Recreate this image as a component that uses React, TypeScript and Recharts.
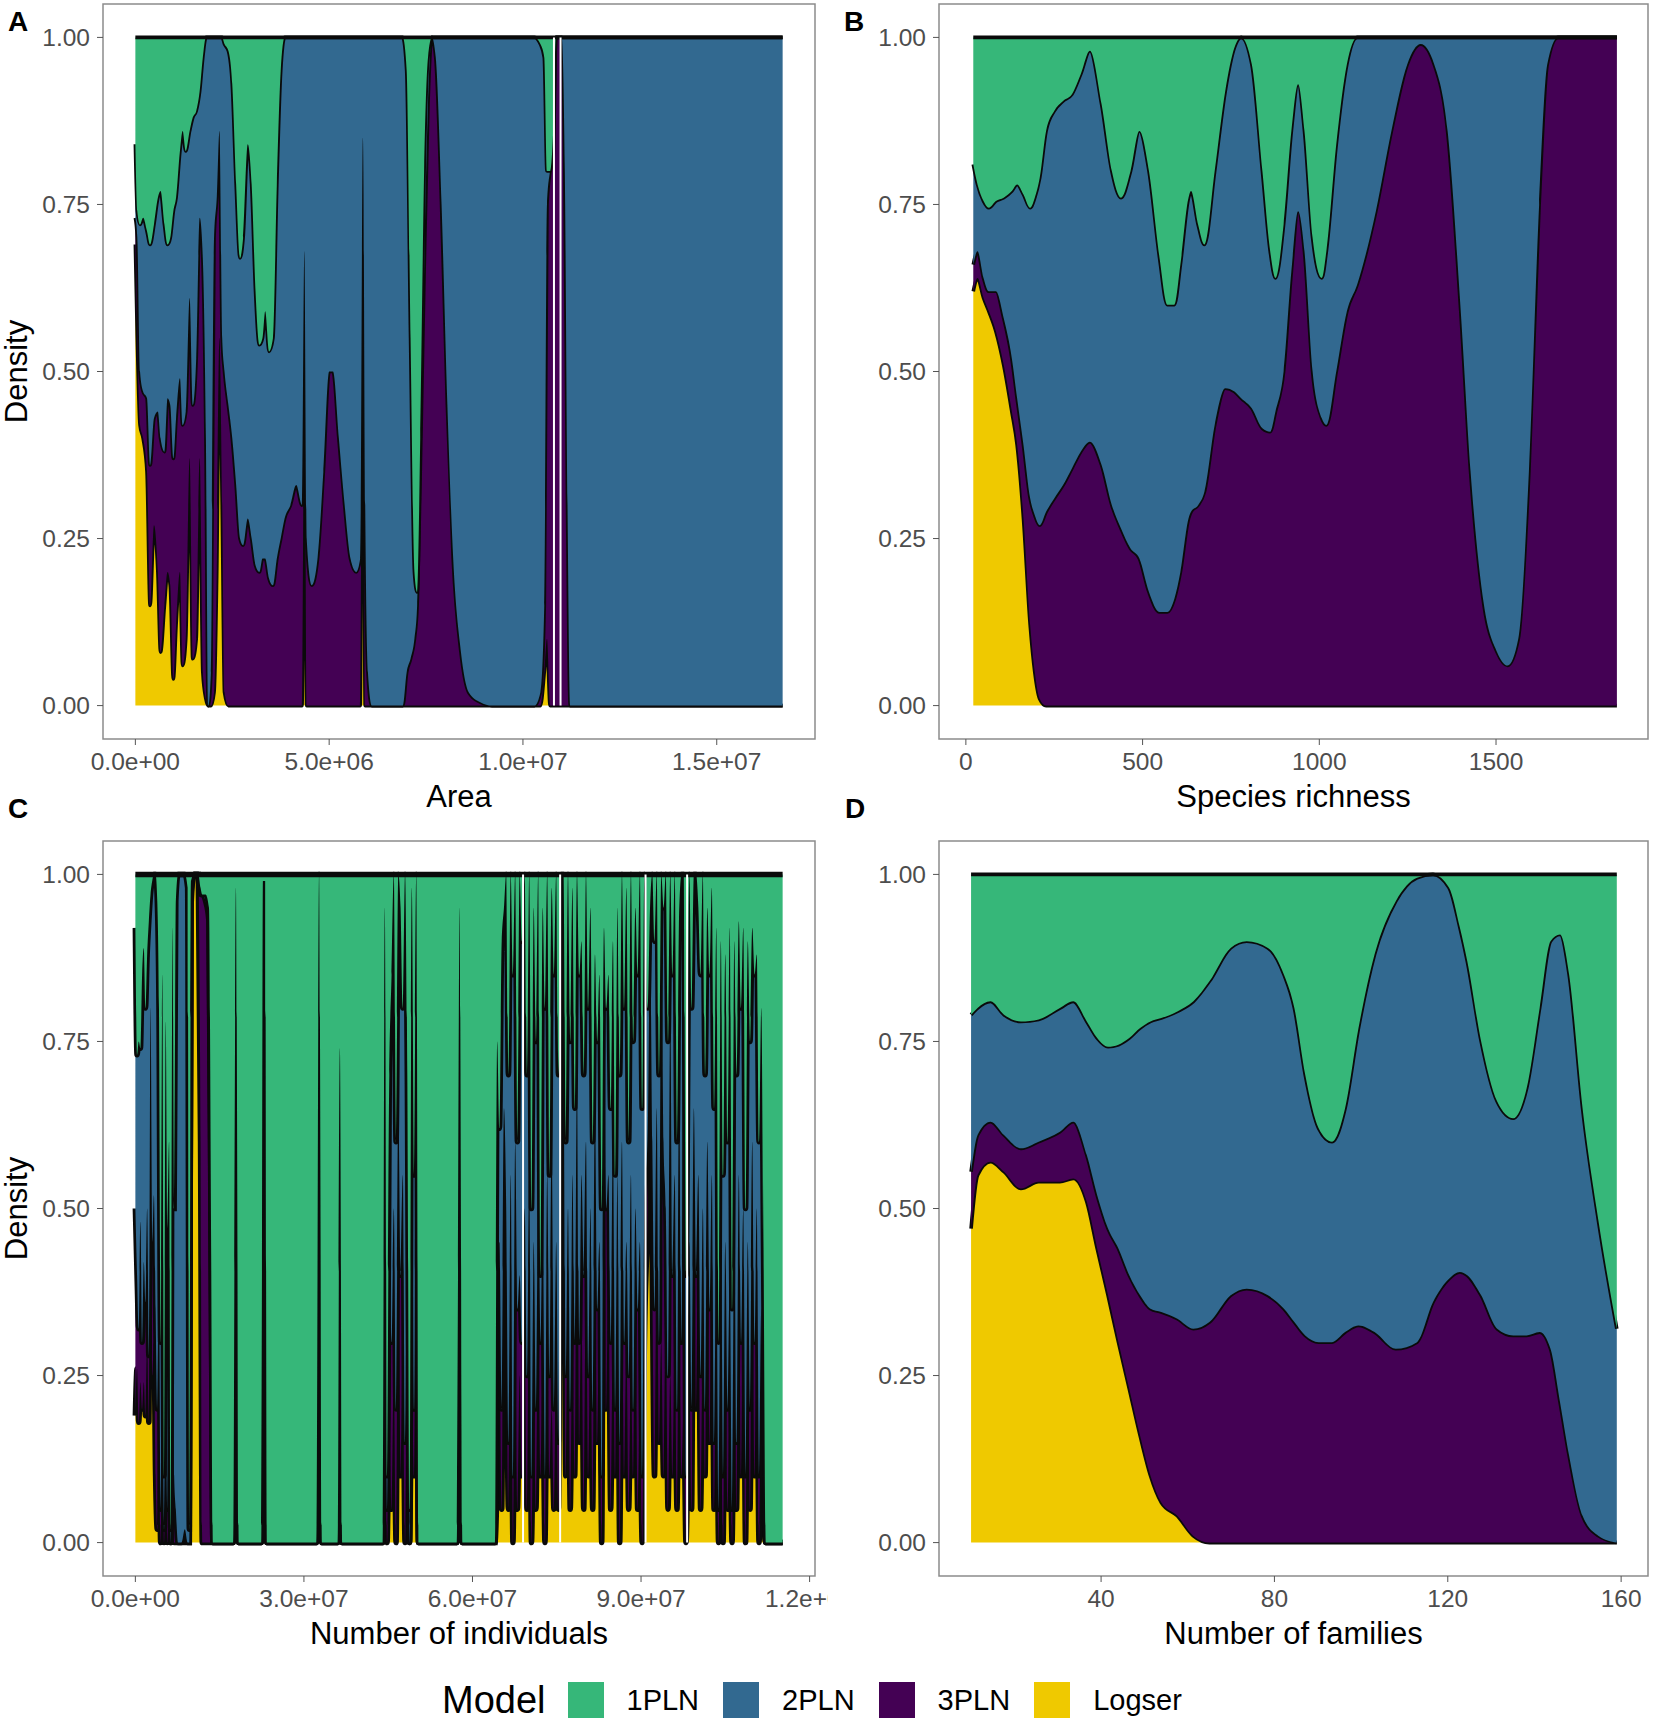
import { AreaChart, Area, XAxis, YAxis, ReferenceArea, ReferenceLine } from "recharts";

const FONT = '"Liberation Sans", Arial, Helvetica, sans-serif';

const MODELS = ["1PLN", "2PLN", "3PLN", "Logser"];
const STACK_ORDER = ["Logser", "3PLN", "2PLN", "1PLN"];
const COLORS: Record<string, string> = {
  "1PLN": "#36b779",
  "2PLN": "#326990",
  "3PLN": "#440154",
  Logser: "#efc900"
};

const Y_TICKS = [0, 0.25, 0.5, 0.75, 1];

// Each panel: x positions and the upper edge of each stacked layer
// (Logser, then 3PLN on top of it, then 2PLN; 1PLN fills up to 1).

// A - Area (x in millions)
const areaX = [
  0, 0.05, 0.12, 0.2, 0.3, 0.38, 0.48, 0.58, 0.65, 0.75,
  0.83, 0.9, 0.98, 1.05, 1.15, 1.22, 1.3, 1.4, 1.48, 1.57,
  1.66, 1.74, 1.82, 1.88, 1.95, 2.03, 2.1, 2.17, 2.24, 2.3,
  2.4, 2.5, 2.6, 2.7, 2.78, 2.9, 3.0, 3.1, 3.2, 3.28,
  3.35, 3.45, 3.55, 3.65, 3.75, 3.85, 4.0, 4.15, 4.3, 4.36,
  4.42, 4.55, 4.7, 4.85, 5.0, 5.1, 5.25, 5.4, 5.55, 5.7,
  5.8, 5.87, 5.93, 6.0, 6.1, 6.9, 7.0, 7.1, 7.2, 7.27,
  7.35, 7.45, 7.55, 7.65, 7.75, 7.9, 8.05, 8.2, 8.4, 8.6,
  8.9, 9.2, 10.3, 10.45, 10.55, 10.62, 10.7, 10.78, 10.85, 11.0,
  11.08, 11.15, 11.22, 16.7
];
const areaLogser = [
  0.69, 0.55, 0.42, 0.4, 0.35, 0.15, 0.27, 0.2, 0.08, 0.15,
  0.2, 0.18, 0.04, 0.12, 0.2, 0.06, 0.1, 0.37, 0.07, 0.1,
  0.37, 0.05, 0.01, 0, 0, 0.02, 0.2, 0.55, 0.3, 0.02,
  0, 0, 0, 0, 0, 0, 0, 0, 0, 0,
  0, 0, 0, 0, 0, 0, 0, 0, 0, 0.55,
  0, 0, 0, 0, 0, 0, 0, 0, 0, 0,
  0, 0.78, 0, 0, 0, 0, 0, 0, 0, 0,
  0, 0, 0, 0, 0, 0, 0, 0, 0, 0,
  0, 0, 0, 0, 0.05, 0.1, 0, 0, 0, 0,
  0, 0, 0, 0
];
const area3pln = [
  0.73, 0.7, 0.5, 0.47, 0.46, 0.36, 0.43, 0.44, 0.4, 0.38,
  0.46, 0.45, 0.37, 0.43, 0.49, 0.42, 0.44, 0.61, 0.45, 0.52,
  0.73, 0.67, 0.4, 0, 0.05, 0.7, 0.76, 0.86, 0.55, 0.5,
  0.45, 0.4, 0.33, 0.25, 0.24, 0.28, 0.25, 0.21, 0.2, 0.22,
  0.22, 0.19, 0.18, 0.22, 0.25, 0.28, 0.3, 0.33, 0.3, 0.68,
  0.25, 0.18, 0.22, 0.35, 0.5, 0.5, 0.4, 0.3, 0.22, 0.2,
  0.22, 0.85, 0.3, 0.05, 0, 0, 0.05, 0.07, 0.1, 0.15,
  0.35, 0.65, 0.9, 1, 0.97, 0.75, 0.45, 0.22, 0.08, 0.02,
  0.005, 0, 0, 0.02, 0.15, 0.75, 0.8, 0.82, 1, 1,
  0.8, 0.3, 0, 0
];
const area2pln = [
  0.84, 0.74, 0.72, 0.73, 0.71, 0.69, 0.72, 0.76, 0.77, 0.72,
  0.69, 0.7, 0.74, 0.76, 0.83, 0.86, 0.83, 0.86, 0.88, 0.89,
  0.92, 0.97, 1, 1, 1, 1, 1, 1, 1, 0.99,
  0.98, 0.93, 0.78, 0.67, 0.7, 0.84, 0.78, 0.62, 0.54, 0.55,
  0.59, 0.53, 0.55, 0.78, 0.95, 1, 1, 1, 1, 1,
  1, 1, 1, 1, 1, 1, 1, 1, 1, 1,
  1, 1, 1, 1, 1, 1, 0.95, 0.55, 0.2, 0.17,
  0.4, 0.8, 0.97, 1, 1, 1, 1, 1, 1, 1,
  1, 1, 1, 0.99, 0.97, 0.8, 0.8, 0.86, 1, 1,
  1, 1, 1, 1
];
const areaGaps = [10.8, 10.97];

// B - Species richness
const richX = [
  21, 33, 50, 65, 85, 107, 130, 145, 163, 182,
  195, 209, 227, 250, 275, 300, 325, 351, 384, 413,
  439, 466, 491, 518, 548, 570, 590, 607, 630, 637,
  657, 675, 704, 734, 760, 779, 809, 839, 861, 876,
  899, 921, 940, 958, 981, 1007, 1020, 1048, 1078, 1107,
  1160, 1204, 1249, 1287, 1325, 1363, 1399, 1428, 1466, 1503,
  1533, 1563, 1593, 1622, 1645, 1675, 1842
];
const richLogser = [
  0.62, 0.64, 0.61, 0.59, 0.56, 0.51, 0.44, 0.39, 0.28, 0.12,
  0.05, 0.01, 0, 0, 0, 0, 0, 0, 0, 0,
  0, 0, 0, 0, 0, 0, 0, 0, 0, 0,
  0, 0, 0, 0, 0, 0, 0, 0, 0, 0,
  0, 0, 0, 0, 0, 0, 0, 0, 0, 0,
  0, 0, 0, 0, 0, 0, 0, 0, 0, 0,
  0, 0, 0, 0, 0, 0, 0
];
const rich3pln = [
  0.66, 0.68, 0.64, 0.62, 0.62, 0.58, 0.52, 0.46, 0.39, 0.31,
  0.285, 0.27, 0.29, 0.31, 0.33, 0.355, 0.38, 0.395, 0.36, 0.3,
  0.265, 0.235, 0.22, 0.17, 0.14, 0.14, 0.16, 0.2, 0.28, 0.29,
  0.3, 0.32, 0.42, 0.475, 0.47, 0.46, 0.445, 0.415, 0.41, 0.44,
  0.5, 0.65, 0.74, 0.68, 0.5, 0.43, 0.42, 0.5, 0.59, 0.63,
  0.74, 0.86, 0.96, 0.99, 0.96, 0.86, 0.6, 0.35, 0.15, 0.08,
  0.06, 0.1, 0.35, 0.75, 0.96, 1, 1
];
const rich2pln = [
  0.81, 0.78, 0.755, 0.745, 0.755, 0.76, 0.77, 0.78, 0.765, 0.745,
  0.76, 0.79, 0.86, 0.89, 0.905, 0.915, 0.945, 0.98, 0.9, 0.8,
  0.76, 0.8, 0.86, 0.8, 0.67, 0.6, 0.6, 0.66, 0.76, 0.77,
  0.72, 0.69, 0.8, 0.92, 0.985, 1, 0.96, 0.8, 0.68, 0.64,
  0.72, 0.86, 0.93, 0.86, 0.7, 0.64, 0.68, 0.84, 0.96, 1,
  1, 1, 1, 1, 1, 1, 1, 1, 1, 1,
  1, 1, 1, 1, 1, 1, 1
];

// C - Number of individuals (x in millions)
const indivX = [
  0, 0.3, 0.6, 0.9, 1.2, 1.5, 1.8, 2.1, 2.4, 2.7,
  3.0, 3.3, 3.6, 3.9, 4.2, 4.5, 4.8, 5.1, 5.4, 5.7,
  6.0, 6.3, 6.6, 6.9, 7.2, 7.6, 8.2, 8.8, 9.3, 9.6,
  9.9, 10.4, 11.2, 11.6, 11.9, 12.5, 13.1, 13.5, 13.8,
  17.4, 17.9, 18.4, 22.4, 22.7, 23.1, 23.4, 32.2, 32.7, 33.2,
  36.0, 36.4, 36.8, 44.0, 44.4, 44.8, 45.2, 45.6, 46.0, 46.4,
  46.8, 47.2, 47.6, 48.0, 48.4, 48.8, 49.2, 49.6, 50.0, 50.4,
  57.2, 57.7, 58.2, 64.0,
  64.4, 64.8, 65.2, 65.6, 66.0, 66.4, 66.8, 67.2, 67.6, 68.0,
  68.4, 68.8, 69.3, 69.7, 70.1, 70.5, 70.9, 71.3, 71.7, 72.1,
  72.5, 72.9, 73.3, 73.7, 74.1, 74.5, 74.9, 75.3, 75.8, 76.2,
  76.6, 77.0, 77.4, 77.8, 78.2, 78.6, 79.0, 79.4, 79.8, 80.2,
  80.6, 81.0, 81.4, 81.8, 82.2, 82.6, 83.0, 83.4, 83.8, 84.2,
  84.6, 85.0, 85.4, 85.8, 86.2, 86.6, 87.0, 87.4, 87.8, 88.2,
  88.6, 89.0, 89.4, 89.8, 90.2, 90.6, 91.2, 91.6, 92.0, 92.4,
  92.8, 93.2, 93.6, 94.0, 94.4, 94.8, 95.2, 95.6, 96.0, 96.4,
  96.8, 97.2, 97.6, 98.0, 98.6, 99.0, 99.4, 99.8, 100.2, 100.6,
  101.0, 101.4, 101.8, 102.2, 102.6, 103.0, 103.4, 103.8, 104.2, 104.6,
  105.0, 105.4, 105.8, 106.2, 106.6, 107.0, 107.4, 107.8, 108.2, 108.6,
  109.0, 109.4, 109.8, 110.2, 110.6, 111.0, 111.4, 111.8, 112.2, 115.2
];
const indivLogser = [
  0.19, 0.26, 0.18, 0.24, 0.2, 0.24, 0.19, 0.3, 0.18, 0.77,
  0.25, 0.3, 0.1, 0.02, 0.2, 0, 0.15, 0, 0.1, 0,
  0.05, 0, 0.1, 0, 0, 0, 0, 0, 0, 0,
  0.95, 1, 1, 0.6, 0, 0, 0, 0, 0,
  0, 0.5, 0, 0, 0.99, 0.99, 0, 0, 0.6, 0,
  0, 0.45, 0, 0, 0.4, 0, 0.2, 0.05, 0.25, 0,
  0.5, 0.1, 0.3, 0, 0.35, 0, 0.25, 0.1, 0.58, 0,
  0, 0.3, 0, 0,
  0.1, 0.3, 0.05, 0.6, 0.35, 0.05, 0.45, 0, 0.3, 0.05,
  0.25, 0.1, 0.3, 0.05, 0.4, 0, 0.2, 0.05, 0.35, 0.1,
  0.25, 0, 0.3, 0.1, 0.2, 0.05, 0.25, 0.05, 0.95, 0.7,
  0.1, 0.4, 0.05, 0.3, 0.1, 0.6, 0.15, 0.35, 0.05, 0.4,
  0.1, 0.3, 0.05, 0.5, 0.15, 0.35, 0, 0.85, 0.2, 0.4,
  0.05, 0.3, 0.1, 0.45, 0, 0.35, 0.1, 0.3, 0.05, 0.25,
  0.1, 0.4, 0.05, 0.2, 0, 0.3, 0.52, 0.85, 0.4, 0.1,
  0.45, 0.15, 0.3, 0.1, 0.35, 0.05, 0.25, 0.1, 0.3, 0.05,
  0.4, 0.1, 0.2, 0, 0.25, 0.05, 0.6, 0.2, 0.45, 0.05,
  0.3, 0.1, 0.55, 0.15, 0.4, 0.05, 0.3, 0, 0.25, 0,
  0.35, 0.05, 0.2, 0, 0.3, 0.05, 0.46, 0.1, 0.4, 0,
  0.35, 0.05, 0.45, 0.1, 0.3, 0, 0.2, 0.05, 0, 0
];
const indiv3pln = [
  0.5, 0.4, 0.32, 0.48, 0.3, 0.42, 0.36, 0.5, 0.28, 0.8,
  0.45, 0.52, 0.35, 0.2, 0.4, 0.05, 0.25, 0.02, 0.2, 0.05,
  0.3, 0, 0.4, 0.1, 0.05, 0, 0, 0.02, 0, 0,
  0.97, 1, 1, 0.97, 0.97, 0.96, 0.93, 0.4, 0,
  0, 0.7, 0, 0, 0.99, 0.99, 0, 0, 0.8, 0,
  0, 0.6, 0, 0, 0.7, 0.05, 0.45, 0.3, 0.5, 0.2,
  0.65, 0.4, 0.55, 0.15, 0.45, 0, 0.6, 0.2, 0.7, 0,
  0, 0.6, 0, 0,
  0.4, 0.45, 0.2, 0.65, 0.5, 0.15, 0.55, 0.1, 0.6, 0.35,
  0.4, 0.3, 0.5, 0.25, 0.55, 0.1, 0.45, 0.2, 0.55, 0.3,
  0.5, 0.1, 0.55, 0.25, 0.6, 0.2, 0.45, 0.15, 0.97, 0.8,
  0.25, 0.5, 0.2, 0.55, 0.3, 0.7, 0.3, 0.55, 0.4, 0.6,
  0.25, 0.5, 0.2, 0.65, 0.35, 0.45, 0.1, 0.88, 0.5, 0.55,
  0.3, 0.6, 0.2, 0.55, 0.15, 0.6, 0.3, 0.45, 0.25, 0.55,
  0.2, 0.5, 0.35, 0.45, 0.1, 0.5, 0.62, 0.88, 0.6, 0.35,
  0.65, 0.3, 0.9, 0.6, 0.5, 0.25, 0.8, 0.4, 0.55, 0.2,
  0.7, 0.3, 0.9, 0.1, 0.45, 0.2, 0.65, 0.4, 0.55, 0.25,
  0.5, 0.2, 0.6, 0.35, 0.55, 0.15, 0.45, 0.05, 0.5, 0.1,
  0.45, 0.2, 0.4, 0.05, 0.5, 0.15, 0.55, 0.3, 0.5, 0.1,
  0.45, 0.2, 0.6, 0.3, 0.5, 0.1, 0.35, 0.1, 0, 0
];
const indiv2pln = [
  0.92, 0.73, 0.75, 0.74, 0.85, 0.89, 0.8, 0.88, 0.93, 0.97,
  0.99, 1, 1, 0.96, 0.8, 0.3, 0.85, 0.1, 0.78, 0.47,
  0.6, 0.02, 0.92, 0.5, 0.96, 1, 1, 1, 0.98, 0.02,
  0.99, 1, 1, 0.98, 0.97, 0.97, 0.95, 0.42, 0,
  0, 0.98, 0, 0, 0.99, 0.99, 0, 0, 1, 0,
  0, 0.74, 0, 0, 0.95, 0.1, 0.7, 0.85, 1, 0.6,
  1, 0.95, 0.8, 1, 0.7, 0.05, 0.98, 0.55, 1, 0,
  0, 0.95, 0, 0,
  0.75, 0.62, 0.9, 0.95, 1, 0.7, 1, 0.85, 1, 0.6,
  1, 0.9, 1, 0.7, 1, 0.5, 0.95, 0.75, 1, 0.4,
  0.95, 0.8, 1, 0.55, 0.98, 0.85, 1, 0.7, 1, 1,
  0.6, 1, 0.75, 0.98, 0.65, 1, 0.85, 0.9, 0.7, 1,
  0.8, 0.95, 0.6, 0.88, 0.75, 0.85, 0.5, 0.92, 0.8, 0.85,
  0.65, 0.9, 0.55, 0.95, 0.7, 1, 0.8, 0.98, 0.6, 1,
  0.75, 0.95, 0.85, 1, 0.65, 1, 0.8, 0.95, 1, 0.9,
  1, 0.7, 1, 0.95, 1, 0.75, 1, 0.85, 1, 0.6,
  0.95, 1, 1, 0.4, 1, 0.8, 1, 1, 0.95, 0.85,
  1, 0.7, 0.95, 0.85, 0.98, 0.65, 0.92, 0.3, 0.9, 0.55,
  0.88, 0.6, 0.92, 0.35, 0.9, 0.7, 0.93, 0.8, 0.92, 0.5,
  0.9, 0.75, 0.92, 0.85, 0.88, 0.6, 0.8, 0.44, 0, 0
];
const indivGaps = [69.0, 75.6, 90.8, 98.2];

// D - Number of families
const famX = [
  10, 11.5, 14.5, 17.6, 21.5, 25.6, 30.5, 33.6, 36.7, 39.1,
  41.6, 44, 46.5, 49, 51.4, 53.9, 57.6, 61.3, 65, 69.9,
  73.6, 78.5, 82.2, 84.6, 87.1, 90.2, 93.3, 96.3, 99.4, 103.1,
  108, 112.9, 116.6, 120.3, 122.8, 124.5, 127.7, 131.4, 135.1, 138.2,
  141.2, 143.7, 145.9, 148, 151.1, 154.8, 159
];
const famLogser = [
  0.47, 0.55, 0.57, 0.555, 0.53, 0.54, 0.54, 0.545, 0.51, 0.44,
  0.37, 0.3, 0.23, 0.16, 0.1, 0.06, 0.04, 0.01, 0, 0,
  0, 0, 0, 0, 0, 0, 0, 0, 0, 0,
  0, 0, 0, 0, 0, 0, 0, 0, 0, 0,
  0, 0, 0, 0, 0, 0, 0
];
const fam3pln = [
  0.555, 0.61, 0.63, 0.61, 0.59, 0.6, 0.615, 0.63, 0.58, 0.52,
  0.47, 0.44, 0.4, 0.37, 0.35, 0.345, 0.335, 0.32, 0.33, 0.37,
  0.38, 0.37, 0.35, 0.33, 0.31, 0.3, 0.3, 0.315, 0.325, 0.315,
  0.29, 0.3, 0.36, 0.395, 0.405, 0.4, 0.37, 0.32, 0.31, 0.31,
  0.315, 0.29, 0.21, 0.13, 0.04, 0.01, 0
];
const fam2pln = [
  0.79, 0.8, 0.81, 0.79, 0.78, 0.783, 0.8, 0.81, 0.78, 0.755,
  0.742, 0.745, 0.755, 0.77, 0.78, 0.785, 0.795, 0.81, 0.84, 0.89,
  0.9, 0.89, 0.85, 0.8, 0.7, 0.62, 0.6, 0.65, 0.77, 0.88,
  0.96, 0.995, 1, 0.98, 0.92, 0.87, 0.75, 0.66, 0.635, 0.68,
  0.8, 0.9, 0.91, 0.85, 0.65, 0.48, 0.32
];

function toRows(x: number[], logser: number[], pln3: number[], pln2: number[]) {
  return x.map((v, i) => ({
    x: v,
    Logser: logser[i],
    "3PLN": Math.max(0, pln3[i] - logser[i]),
    "2PLN": Math.max(0, pln2[i] - pln3[i]),
    "1PLN": Math.max(0, 1 - pln2[i])
  }));
}

// ggplot-style scientific labels, x values given in millions
const sci = (m: number) => {
  const v = m * 1e6;
  if (v === 0) return "0.0e+00";
  const e = Math.floor(Math.log10(Math.abs(v)));
  const mant = v / Math.pow(10, e);
  return mant.toFixed(1) + "e+" + String(e).padStart(2, "0");
};

const PLOT_H = 735;
const X_AXIS_H = 80;

const densityTitle = (props: any) => {
  const vb = props.viewBox || {};
  const cy = (vb.y ?? 0) + (vb.height ?? PLOT_H) / 2;
  const cx = 16;
  return (
    <text
      x={cx}
      y={cy}
      transform={`rotate(-90, ${cx}, ${cy})`}
      textAnchor="middle"
      dominantBaseline="central"
      fontSize={31}
      fill="#000"
    >
      Density
    </text>
  );
};

type PanelProps = {
  rows: any[];
  domain: [number, number];
  ticks: number[];
  format?: (v: number) => string;
  xTitle: string;
  showDensity?: boolean;
  width: number;
  marginTop: number;
  marginRight: number;
  yAxisWidth: number;
  gaps?: number[];
  lineWidth?: number;
};

function Panel(p: PanelProps) {
  const height = p.marginTop + PLOT_H + X_AXIS_H;
  return (
    <div style={{ width: p.width, height, overflow: "hidden" }}>
      <AreaChart
        width={p.width}
        height={height}
        data={p.rows}
        margin={{ top: p.marginTop, right: p.marginRight, left: 0, bottom: 0 }}
      >
        <XAxis
          type="number"
          dataKey="x"
          domain={p.domain}
          ticks={p.ticks}
          interval={0}
          tickFormatter={p.format}
          axisLine={false}
          tickSize={6}
          tickMargin={8}
          tickLine={{ stroke: "#555" }}
          tick={{ fill: "#4d4d4d", fontSize: 24.5 }}
          height={X_AXIS_H}
          label={{ value: p.xTitle, position: "insideBottom", offset: 12, fill: "#000", fontSize: 31 }}
        />
        <YAxis
          type="number"
          domain={[-0.05, 1.05]}
          ticks={Y_TICKS}
          interval={0}
          tickFormatter={(v: number) => v.toFixed(2)}
          axisLine={false}
          tickSize={6}
          tickMargin={7}
          tickLine={{ stroke: "#555" }}
          tick={{ fill: "#4d4d4d", fontSize: 24.5 }}
          width={p.yAxisWidth}
          label={p.showDensity ? { content: densityTitle } : undefined}
        />
        {STACK_ORDER.map((m) => (
          <Area
            key={m}
            type="monotone"
            dataKey={m}
            stackId="fill"
            fill={COLORS[m]}
            fillOpacity={1}
            stroke="#0a0a0a"
            strokeWidth={p.lineWidth ?? 3.6}
            dot={false}
            activeDot={false}
            isAnimationActive={false}
          />
        ))}
        {(p.gaps || []).map((g) => (
          <ReferenceLine
            key={g}
            segment={[{ x: g, y: 0 }, { x: g, y: 1 }]}
            stroke="#ffffff"
            strokeWidth={2}
          />
        ))}
        <ReferenceArea
          x1={p.domain[0]}
          x2={p.domain[1]}
          y1={-0.05}
          y2={1.05}
          fill="none"
          fillOpacity={0}
          stroke="#8c8c8c"
          strokeWidth={1.5}
        />
      </AreaChart>
    </div>
  );
}

const panelLabel = (text: string, left: number, top: number) => (
  <div
    style={{
      position: "absolute",
      left,
      top,
      fontSize: 28,
      fontWeight: "bold",
      lineHeight: "28px"
    }}
  >
    {text}
  </div>
);

export default function App() {
  const rowsA = toRows(areaX, areaLogser, area3pln, area2pln);
  const rowsB = toRows(richX, richLogser, rich3pln, rich2pln);
  const rowsC = toRows(indivX, indivLogser, indiv3pln, indiv2pln);
  const rowsD = toRows(famX, famLogser, fam3pln, fam2pln);

  return (
    <div
      style={{
        position: "absolute",
        left: 0,
        top: 0,
        width: 1655,
        height: 1724,
        background: "#fff",
        fontFamily: FONT,
        color: "#000"
      }}
    >
      <div style={{ position: "absolute", left: 0, top: 0 }}>
        <Panel
          rows={rowsA}
          domain={[-0.835, 17.535]}
          ticks={[0, 5, 10, 15]}
          format={sci}
          xTitle="Area"
          showDensity
          width={828}
          marginTop={4}
          marginRight={13}
          yAxisWidth={103}
          gaps={areaGaps}
        />
      </div>
      <div style={{ position: "absolute", left: 830, top: 0 }}>
        <Panel
          rows={rowsB}
          domain={[-76, 1930]}
          ticks={[0, 500, 1000, 1500]}
          xTitle="Species richness"
          width={825}
          marginTop={4}
          marginRight={7}
          yAxisWidth={109}
        />
      </div>
      <div style={{ position: "absolute", left: 0, top: 820 }}>
        <Panel
          rows={rowsC}
          domain={[-5.76, 120.96]}
          ticks={[0, 30, 60, 90, 120]}
          format={sci}
          xTitle="Number of individuals"
          showDensity
          width={828}
          marginTop={21}
          marginRight={13}
          yAxisWidth={103}
          gaps={indivGaps}
          lineWidth={5.5}
        />
      </div>
      <div style={{ position: "absolute", left: 830, top: 820 }}>
        <Panel
          rows={rowsD}
          domain={[2.6, 166.2]}
          ticks={[40, 80, 120, 160]}
          xTitle="Number of families"
          width={825}
          marginTop={21}
          marginRight={7}
          yAxisWidth={109}
        />
      </div>

      {panelLabel("A", 8, 8)}
      {panelLabel("B", 844, 8)}
      {panelLabel("C", 8, 795)}
      {panelLabel("D", 845, 795)}

      <div
        style={{
          position: "absolute",
          left: 442,
          top: 1682,
          height: 36,
          display: "flex",
          alignItems: "center"
        }}
      >
        <span style={{ fontSize: 38, marginRight: 22 }}>Model</span>
        {MODELS.map((m) => (
          <div key={m} style={{ display: "flex", alignItems: "center" }}>
            <div style={{ width: 36, height: 36, background: COLORS[m], marginRight: 23 }} />
            <span style={{ fontSize: 29, marginRight: 24 }}>{m}</span>
          </div>
        ))}
      </div>
    </div>
  );
}
